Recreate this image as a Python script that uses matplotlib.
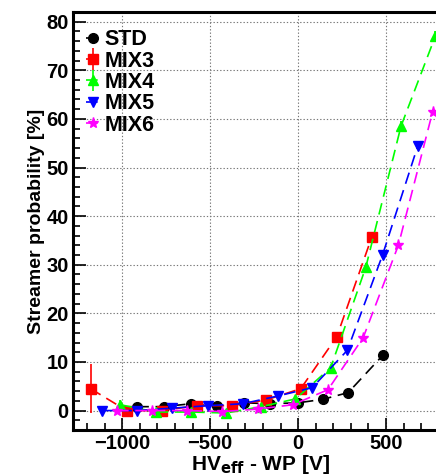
import matplotlib
matplotlib.use("Agg")
import matplotlib.pyplot as plt
from matplotlib.ticker import MultipleLocator

plt.rcParams['font.family'] = ['Liberation Sans', 'DejaVu Sans']

std_x = [-915, -765, -610, -460, -310, -160, 0, 140, 285, 485]
std_y = [0.8, 0.8, 1.4, 1.0, 1.6, 1.4, 1.6, 2.3, 3.7, 11.5]

mix3_x = [-1180, -975, -775, -575, -375, -180, 15, 220, 420]
mix3_y = [4.5, 0.0, 0.0, 1.0, 1.0, 2.2, 4.5, 15.2, 35.8]
mix3_err = [5.0, 0.4, 0.3, 0.3, 0.3, 0.3, 0.4, 0.6, 0.8]

mix4_x = [-1010, -810, -610, -410, -210, -15, 185, 385, 585, 780]
mix4_y = [1.2, -0.3, -0.3, -0.5, 0.8, 2.4, 8.8, 29.5, 58.5, 77.0]
mix4_err = [1.0, 0.3, 0.3, 0.3, 0.3, 0.3, 0.5, 0.8, 1.0, 1.0]

mix5_x = [-1115, -915, -715, -515, -315, -115, 80, 280, 480, 680]
mix5_y = [0.0, 0.0, 0.5, 1.0, 1.4, 3.0, 4.7, 12.4, 32.0, 54.4]

mix6_x = [-1030, -830, -630, -430, -230, -30, 170, 370, 570, 765]
mix6_y = [0.0, 0.0, 0.0, -0.2, 0.3, 1.2, 4.3, 15.0, 34.0, 61.5]

fig = plt.figure(figsize=(4.36, 4.74), dpi=100)
ax = fig.add_axes([73/436, 44/474, (447.6-73)/436, (430-12)/474])

ms = 7
dash = (0, (7, 4))
ax.errorbar(std_x, std_y, fmt='o', color='black', ms=ms, ls=dash, lw=1.2, label='STD')
ax.errorbar(mix3_x, mix3_y, yerr=mix3_err, fmt='s', color='#ff0000', ms=ms, ls=dash, lw=1.2, elinewidth=1.2, capsize=0, label='MIX3')
ax.errorbar(mix4_x, mix4_y, yerr=mix4_err, fmt='^', color='#00ff00', ms=ms, ls=dash, lw=1.2, elinewidth=1.2, capsize=0, label='MIX4')
ax.errorbar(mix5_x, mix5_y, fmt='v', color='#0000ff', ms=ms, ls=dash, lw=1.2, label='MIX5')
ax.errorbar(mix6_x, mix6_y, fmt='*', color='#ff00ff', ms=ms+1, ls=dash, lw=1.2, label='MIX6')

ax.set_xlim(-1280, 850)
ax.set_ylim(-4, 82)
ax.xaxis.set_major_locator(MultipleLocator(500))
ax.xaxis.set_minor_locator(MultipleLocator(100))
ax.yaxis.set_major_locator(MultipleLocator(10))
ax.yaxis.set_minor_locator(MultipleLocator(2))
ax.tick_params(which='both', direction='in', top=False, right=False, width=1.2)
ax.tick_params(which='major', length=9, labelsize=14.5, pad=3)
ax.tick_params(which='minor', length=5)
for lab in ax.get_xticklabels() + ax.get_yticklabels():
    lab.set_fontweight('bold')
ax.grid(True, which='major', ls=(0, (1.2, 1.8)), color='#777777', lw=0.8)
for s in ax.spines.values():
    s.set_linewidth(2.2)

ax.set_ylabel('Streamer probability [%]', fontsize=14, fontweight='bold', labelpad=1)
ax.set_xlabel(r'HV$_{\mathbf{eff}}$ - WP [V]', fontsize=15, fontweight='bold', labelpad=0)

leg = ax.legend(loc='upper left', frameon=False, prop={'weight': 'bold', 'size': 15.5},
                handletextpad=0.15, handlelength=0.7, labelspacing=0.02, borderaxespad=0.2,
                bbox_to_anchor=(0.0, 0.99))

fig.savefig('out.png', dpi=100)
